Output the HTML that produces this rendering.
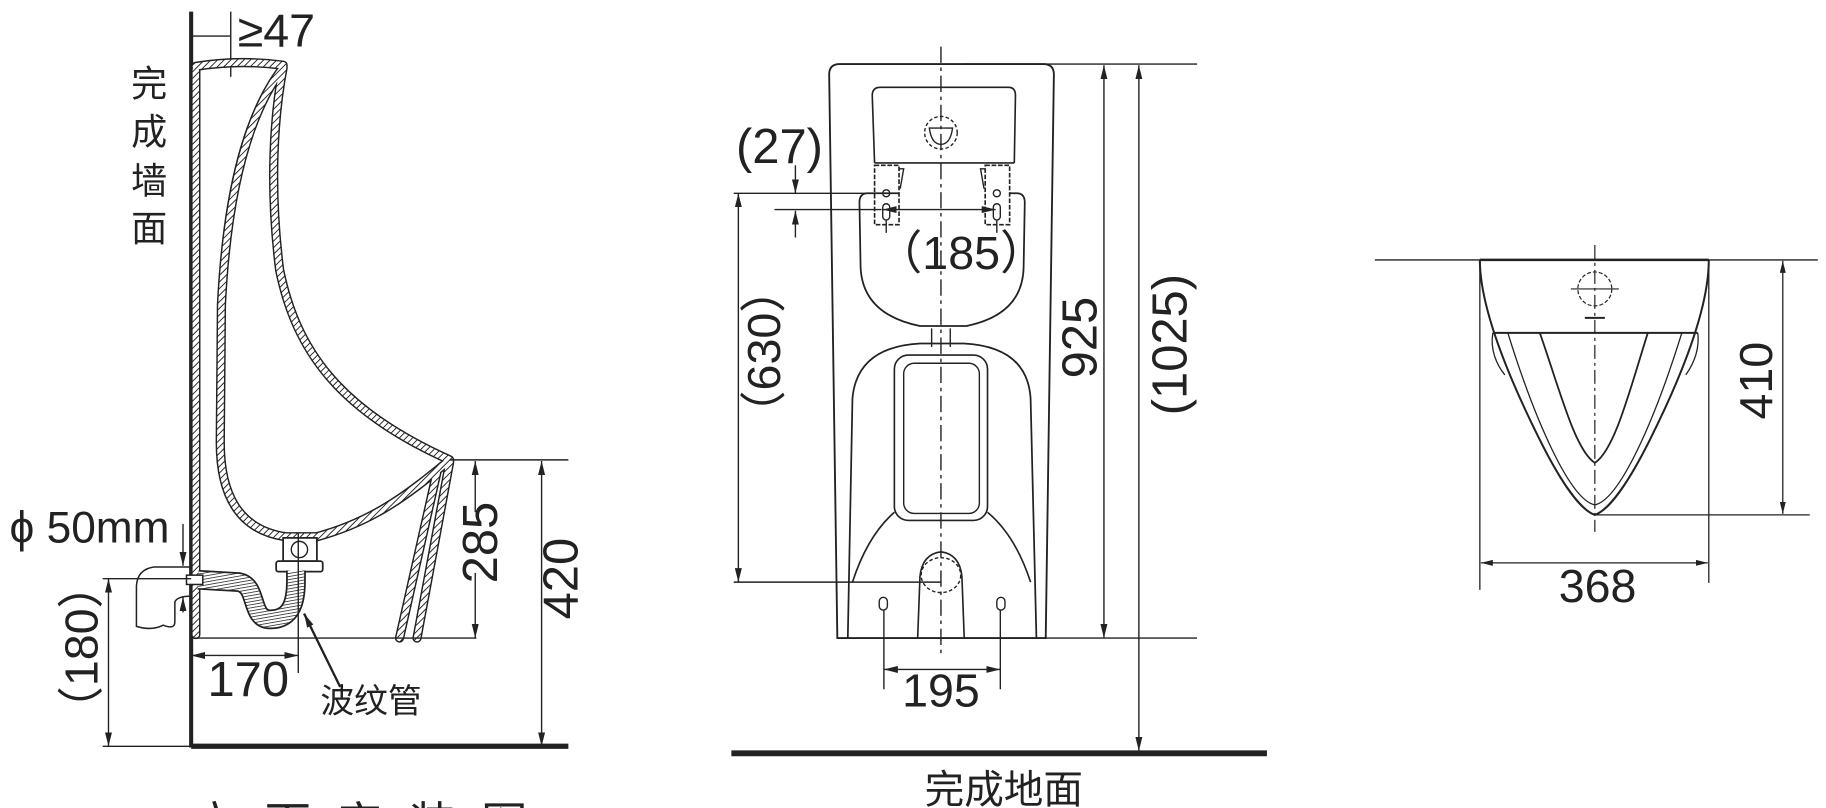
<!DOCTYPE html>
<html><head><meta charset="utf-8"><style>
html,body{margin:0;padding:0;background:#fff;overflow:hidden;width:1826px;height:808px;}
svg{display:block;}
text{font-family:"Liberation Sans","Noto Sans CJK SC",sans-serif;fill:#222;}
</style></head><body>
<svg width="1826" height="808" viewBox="0 0 1568 694" xmlns="http://www.w3.org/2000/svg">
<defs>
<pattern id="h" width="4" height="4" patternUnits="userSpaceOnUse" patternTransform="rotate(45)">
<rect width="4" height="4" fill="#fff"/><line x1="0" y1="0" x2="0" y2="4" stroke="#222" stroke-width="1.6"/>
</pattern>
<pattern id="b" width="2.6" height="2.6" patternUnits="userSpaceOnUse" patternTransform="rotate(80)">
<rect width="3" height="3" fill="#fff"/><line x1="0" y1="0" x2="0" y2="3" stroke="#222" stroke-width="1.3"/>
</pattern>
<marker id="a" viewBox="0 0 12 6" refX="12" refY="3" markerWidth="12" markerHeight="6" markerUnits="userSpaceOnUse" orient="auto-start-reverse">
<path d="M0,0 L12,3 L0,6 Z" fill="#222"/>
</marker>
</defs>
<g fill="none" stroke="#222" stroke-width="1.2">

<!-- ===== LEFT SIDE VIEW ===== -->
<line x1="164" y1="10" x2="164" y2="642" stroke-width="3.5"/>
<line x1="164" y1="641" x2="488" y2="641" stroke-width="4.5"/>
<line x1="164" y1="31" x2="198" y2="31"/>
<line x1="198" y1="10" x2="198" y2="66"/>
<path d="M168,60 L168,545 M168,57 Q205,51 243,56 M243,58 C214,96 195,160 190,262 L189,380 C189,425 205,455 245,461 L272,461 C320,448 350,425 385,396 M243,58 C235,100 231,160 240,232 C254,300 290,352 386,395 M386,397 L358,548 M375,406 L343,548"
 stroke="#222" stroke-width="8" stroke-linecap="round" stroke-linejoin="round"/>
<path d="M168,60 L168,545 M168,57 Q205,51 243,56 M243,58 C214,96 195,160 190,262 L189,380 C189,425 205,455 245,461 L272,461 C320,448 350,425 385,396 M243,58 C235,100 231,160 240,232 C254,300 290,352 386,395 M386,397 L358,548 M375,406 L343,548"
 stroke="url(#h)" stroke-width="5.5" stroke-linecap="round" stroke-linejoin="round"/>
<line x1="164" y1="548" x2="409" y2="548"/>
<line x1="386" y1="395" x2="488" y2="395"/>
<rect x="243" y="462" width="29" height="20" fill="#fff" stroke-width="1.5"/>
<circle cx="257" cy="472" r="7"/>
<rect x="237" y="482" width="40" height="9" rx="2" fill="#fff" stroke-width="1.5"/>
<path d="M170,498 L205,500 C222,503 214,532 232,532 C256,532 254,505 254,490" stroke="#222" stroke-width="17"/>
<path d="M170,498 L205,500 C222,503 214,532 232,532 C256,532 254,505 254,490" stroke="url(#b)" stroke-width="14"/>
<rect x="160" y="494" width="14" height="8" fill="#fff" stroke-width="1.3"/>
<line x1="256" y1="458" x2="256" y2="578"/>
<path d="M164,487 L132,487 Q118,489 117,503 L117,538 Q130,542 140,537 Q150,541 150,534 L150,517 Q152,512 164,512" stroke-width="1.3"/>
<line x1="157" y1="450" x2="157" y2="486" marker-end="url(#a)"/>
<line x1="157" y1="526" x2="157" y2="513" marker-end="url(#a)"/>
<line x1="88" y1="497" x2="164" y2="497"/>
<line x1="88" y1="641" x2="164" y2="641"/>
<line x1="93" y1="497" x2="93" y2="641" marker-start="url(#a)" marker-end="url(#a)"/>
<line x1="164" y1="563" x2="256" y2="563" marker-start="url(#a)" marker-end="url(#a)"/>
<line x1="292" y1="590" x2="261" y2="527" stroke-width="2" marker-end="url(#a)"/>
<line x1="408" y1="396" x2="408" y2="440" marker-start="url(#a)"/>
<line x1="408" y1="492" x2="408" y2="548" marker-end="url(#a)"/>
<line x1="465" y1="396" x2="465" y2="641" marker-start="url(#a)" marker-end="url(#a)"/>

<!-- ===== MIDDLE FRONT VIEW ===== -->
<path d="M712,64 Q712,55 721,55 L896,55 Q905,55 905,64 L898,548 L719,548 Z" stroke-width="1.6"/>
<line x1="808" y1="40" x2="808" y2="562" stroke-dasharray="14,4,3,4"/>
<line x1="828" y1="55" x2="1028" y2="55"/>
<line x1="898" y1="548" x2="1028" y2="548"/>
<path d="M751,140 L749,82 Q749,75 756,75 L866,75 Q872,75 872,82 L871,140" stroke-width="1.4"/>
<line x1="751" y1="140" x2="871" y2="140" stroke-width="1.4"/>
<circle cx="808" cy="114" r="14" stroke-dasharray="3,2"/>
<path d="M798,110 L818,110 Q816,124 808,124 Q800,124 798,110 Z"/>
<rect x="751" y="142" width="21" height="51" fill="#fff" stroke-dasharray="4,1.5" stroke-width="1.4"/>
<rect x="846" y="142" width="21" height="51" fill="#fff" stroke-dasharray="4,1.5" stroke-width="1.4"/>
<path d="M772,145 L776,145 L773,162" /><path d="M846,145 L842,145 L845,162"/>
<path d="M772,166 L745,166 Q738,166 738,174 L739,230 Q741,270 790,280 L830,280 Q878,270 879,230 L880,174 Q880,166 873,166 L867,166" stroke-width="1.5"/>
<circle cx="761" cy="166" r="3"/><rect x="758" y="175" width="6" height="14" rx="3"/>
<circle cx="856" cy="166" r="3"/><rect x="853" y="175" width="6" height="14" rx="3"/>
<path d="M800,282 L800,298 M816,282 L816,298"/>
<path d="M728,548 L732,342 Q736,298 790,295 L828,295 Q882,298 885,342 L890,548" stroke-width="1.5"/>
<rect x="768" y="305" width="80" height="142" rx="12" stroke-width="1.4"/>
<rect x="776" y="312" width="65" height="129" rx="9" stroke-width="1.2"/>
<path d="M732,500 Q745,460 768,440 M885,500 Q872,460 848,440" stroke-width="1.4"/>
<path d="M788,548 L790,495 Q792,476 808,474 Q824,476 826,495 L828,548" stroke-width="1.4"/>
<ellipse cx="808" cy="494" rx="17" ry="15" stroke-dasharray="3,2"/>
<rect x="755" y="513" width="7" height="11" rx="3.5"/>
<rect x="856" y="513" width="7" height="11" rx="3.5"/>
<line x1="759" y1="524" x2="759" y2="592"/>
<line x1="859" y1="524" x2="859" y2="592"/>
<line x1="759" y1="575" x2="859" y2="575" marker-start="url(#a)" marker-end="url(#a)"/>
<line x1="630" y1="166" x2="760" y2="166"/>
<line x1="665" y1="180" x2="757" y2="180" />
<line x1="775" y1="180" x2="758" y2="180" marker-end="url(#a)"/>
<line x1="842" y1="180" x2="855" y2="180" marker-end="url(#a)"/>
<line x1="775" y1="180" x2="842" y2="180"/>
<line x1="683" y1="142" x2="683" y2="166" marker-end="url(#a)"/>
<line x1="683" y1="204" x2="683" y2="181" marker-end="url(#a)"/>
<line x1="761" y1="189" x2="761" y2="200"/><line x1="856" y1="189" x2="856" y2="200"/>
<line x1="634" y1="166" x2="634" y2="500" marker-start="url(#a)" marker-end="url(#a)"/>
<line x1="630" y1="500" x2="808" y2="500"/>
<line x1="948" y1="56" x2="948" y2="548" marker-start="url(#a)" marker-end="url(#a)"/>
<line x1="978" y1="56" x2="978" y2="645" marker-start="url(#a)" marker-end="url(#a)"/>
<line x1="628" y1="647" x2="1088" y2="647" stroke-width="5"/>

<!-- ===== RIGHT TOP VIEW ===== -->
<g transform="scale(0.8587)">
<line x1="1375" y1="260" x2="1818" y2="260" stroke-width="1.4"/>
<line x1="1480" y1="260" x2="1709" y2="260" stroke-width="2.5"/>
<path d="M1480,260 C1480,300 1500,360 1540,440 C1560,480 1580,510 1595,515 C1610,510 1630,480 1650,440 C1690,360 1709,300 1709,260" stroke-width="2"/>
<path d="M1493,333 L1698,333" stroke-width="2"/>
<path d="M1493,333 C1490,350 1497,365 1505,375" stroke-width="1.3"/>
<path d="M1698,333 C1700,350 1693,365 1686,375" stroke-width="1.3"/>
<path d="M1508,333 C1535,420 1570,500 1595,505 C1620,500 1655,420 1682,333" stroke-width="1.3"/>
<path d="M1540,333 C1560,390 1575,450 1595,463 C1615,450 1630,390 1648,333" stroke-width="1.8"/>
<circle cx="1595" cy="289" r="17" stroke-dasharray="4,2"/>
<line x1="1571" y1="289" x2="1619" y2="289"/>
<line x1="1585" y1="318" x2="1605" y2="318" stroke-width="2"/>
<line x1="1595" y1="245" x2="1595" y2="532" stroke-dasharray="14,4,3,4"/>
<line x1="1595" y1="515" x2="1810" y2="515" stroke-width="1.3"/>
<line x1="1783" y1="261" x2="1783" y2="514" stroke-width="1.3" marker-start="url(#a)" marker-end="url(#a)"/>
<line x1="1480" y1="262" x2="1480" y2="590" stroke-width="1.3"/>
<line x1="1709" y1="262" x2="1709" y2="583" stroke-width="1.3"/>
<line x1="1481" y1="563" x2="1708" y2="563" stroke-width="1.3" marker-start="url(#a)" marker-end="url(#a)"/>
</g>
</g>

<g font-size="42">
<text x="204" y="40" font-size="40">≥47</text>
<g font-size="31" text-anchor="middle">
<text x="128" y="83">完</text><text x="128" y="124">成</text><text x="128" y="166">墙</text><text x="128" y="207">面</text>
</g>
<text x="8" y="466" font-size="38">ϕ 50mm</text>
<text transform="translate(70,556) rotate(-90)" text-anchor="middle" dominant-baseline="central" font-size="40">（180）</text>
<text x="178" y="598">170</text>
<text x="275" y="612" font-size="29">波纹管</text>
<rect x="398" y="440" width="20" height="52" fill="#fff"/>
<text transform="translate(413,466) rotate(-90)" text-anchor="middle" dominant-baseline="central">285</text>
<text transform="translate(482,497) rotate(-90)" text-anchor="middle" dominant-baseline="central">420</text>
<text x="165" y="722" font-size="40" letter-spacing="22">立面安装图</text>
<text x="632" y="140">(27)</text>
<text x="752" y="231" font-size="40">（185）</text>
<text transform="translate(656,302) rotate(-90)" text-anchor="middle" dominant-baseline="central" font-size="40">（630）</text>
<text transform="translate(928,290) rotate(-90)" text-anchor="middle" dominant-baseline="central">925</text>
<text transform="translate(1005,296) rotate(-90)" text-anchor="middle" dominant-baseline="central">(1025)</text>
<text x="808" y="607" text-anchor="middle" font-size="40">195</text>
<text x="862" y="690" text-anchor="middle" font-size="34">完成地面</text>
<text transform="translate(1508,327) rotate(-90)" text-anchor="middle" dominant-baseline="central" font-size="40">410</text>
<text x="1372" y="517" text-anchor="middle" font-size="40">368</text>
</g>
</svg>
</body></html>
